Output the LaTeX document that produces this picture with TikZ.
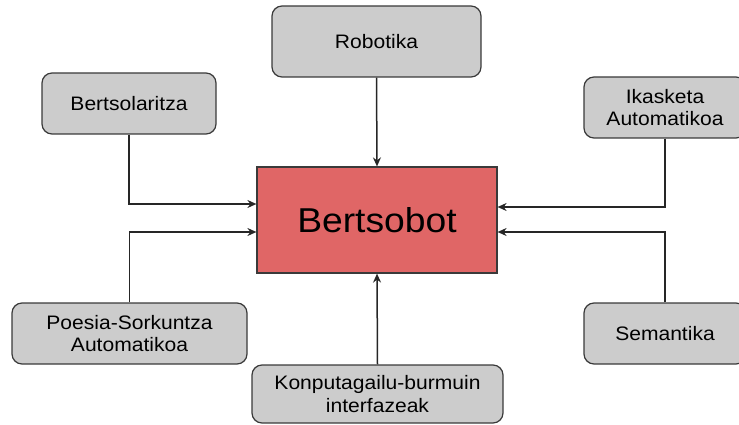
\documentclass[tikz,border=0pt]{standalone}
\usepackage{fontspec}
\setmainfont{Liberation Sans}[FakeStretch=1.08]
\usetikzlibrary{arrows.meta}
\definecolor{boxgray}{HTML}{CCCCCC}
\definecolor{boxred}{HTML}{E06666}
\definecolor{edge}{HTML}{3A3A3A}
\begin{document}
\begin{tikzpicture}[x=1pt,y=-1pt,
  topic/.style={draw=edge,fill=boxgray,line width=1.2pt,rounded corners=10pt,
    align=center,inner sep=0pt,font=\fontsize{19.5}{22.5}\selectfont},
  core/.style={draw=edge,fill=boxred,line width=1.2pt,inner sep=0pt,
    minimum width=240pt,minimum height=106pt,font=\fontsize{34.5}{38}\selectfont},
  link/.style={draw=black!85,line width=1.5pt,-{Stealth[length=9pt,width=8pt,inset=3pt]}}]
\useasboundingbox (0,0) rectangle (739,425);
\node[core] (cen) at (377,220) {Bertsobot};
\node[topic,minimum width=209pt,minimum height=71pt] (rob) at (376.5,41.5) {Robotika};
\node[topic,minimum width=174pt,minimum height=61pt] (ber) at (129,103.5) {Bertsolaritza};
\node[topic,minimum width=162pt,minimum height=61pt] (ika) at (665,107.5) {Ikasketa\\Automatikoa};
\node[topic,minimum width=162pt,minimum height=61pt] (sem) at (665,333.5) {Semantika};
\node[topic,minimum width=235pt,minimum height=61pt] (poe) at (129.5,333.5) {Poesia-Sorkuntza\\Automatikoa};
\node[topic,minimum width=251pt,minimum height=58pt] (kon) at (377.5,394) {Konputagailu-burmuin\\interfazeak};
\coordinate (cBL) at ([yshift=16pt]cen.west);
\coordinate (cPL) at ([yshift=-12pt]cen.west);
\coordinate (cIR) at ([yshift=13pt]cen.east);
\coordinate (cSR) at ([yshift=-12pt]cen.east);
\draw[link] (rob.south) -- (cen.north);
\draw[link] (kon.north) -- (cen.south);
\draw[link] (ber.south) |- (cBL);
\draw[link] (poe.north) |- (cPL);
\draw[link] (ika.south) |- (cIR);
\draw[link] (sem.north) |- (cSR);
\end{tikzpicture}
\end{document}
